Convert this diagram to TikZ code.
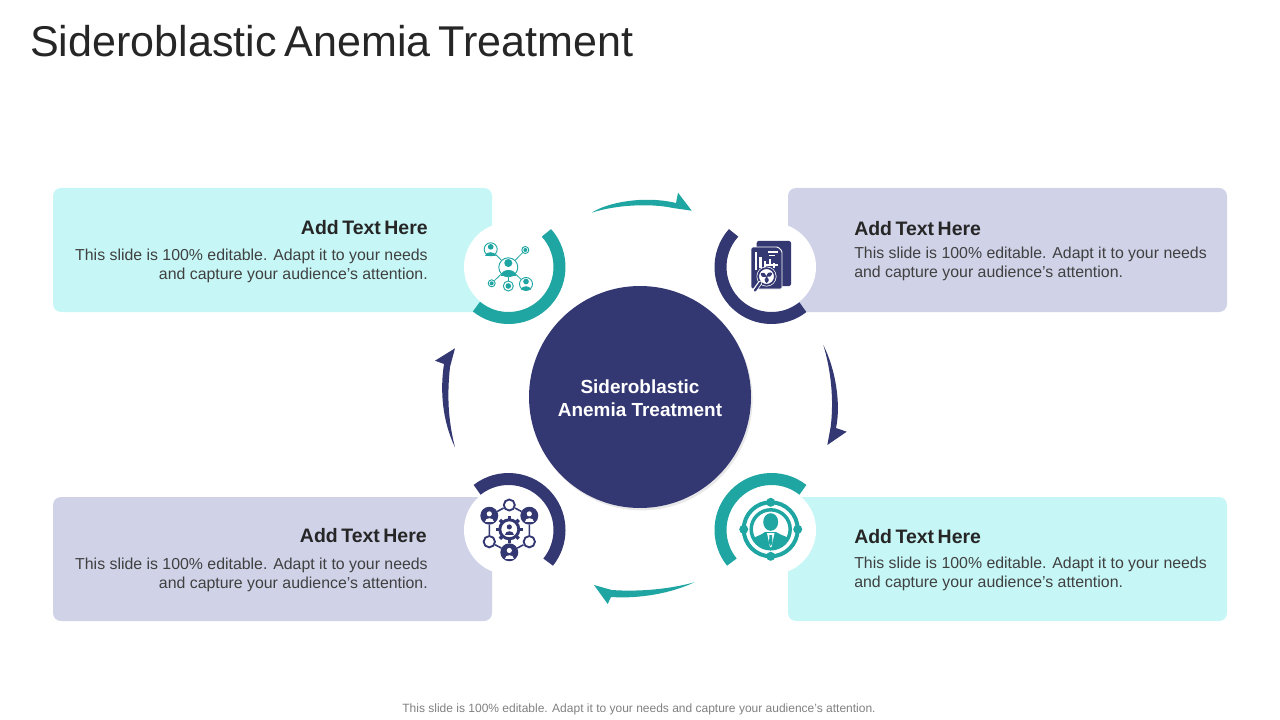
\documentclass[tikz,border=0pt]{standalone}
\usepackage{fontspec}
\setmainfont{Liberation Sans}
\newfontfamily\titlefont[WordSpace=0.75]{Liberation Sans}
\newfontfamily\headfont[WordSpace=0.65]{Liberation Sans}
\usetikzlibrary{calc,positioning,shadows}
\definecolor{mainTeal}{HTML}{1FA6A2}
\definecolor{mainNavy}{HTML}{343872}
\definecolor{lightCyan}{HTML}{C6F7F6}
\definecolor{lightLav}{HTML}{D0D2E8}
\definecolor{inkDark}{HTML}{262626}
\definecolor{inkBody}{HTML}{404040}
\tikzset{
  box/.style={rectangle, rounded corners=6pt, minimum width=329.25pt, minimum height=93pt, inner sep=0pt},
  hub/.style={circle, fill=white, minimum size=66.75pt, inner sep=0pt},
  ring/.style={line width=9pt},
  headtxt/.style={inner sep=0pt, text=inkDark, font=\headfont\fontsize{14.6}{17}\selectfont\bfseries},
  bodytxt/.style={inner sep=0pt, text=inkBody, font=\fontsize{11.9}{14.25}\selectfont},
  sat/.style={circle, draw=mainTeal, fill=white, line width=.7pt, inner sep=0pt},
  hexnode/.style={circle, draw=mainNavy, line width=1.4pt, inner sep=0pt},
  person/.pic={
    \fill (0,-3) circle[radius=2.7];
    \fill (-5,5.5) .. controls (-5,.5) and (5,.5) .. (5,5.5) -- cycle;
  },
}
\begin{document}
\begin{tikzpicture}[x=0.75pt,y=-0.75pt]
    \useasboundingbox (0,0) rectangle (1280,720);
    % Title and footer
    \node [anchor=west, inner sep=0pt, text=inkDark, font=\titlefont\fontsize{32.3}{38}\selectfont] (title) at (30,41.5) {Sideroblastic Anemia Treatment};
    \node [inner sep=0pt, text=black!50, font=\fontsize{9}{11}\selectfont] (footer) at (639,709.5) {This slide is 100\% editable. Adapt it to your needs and capture your audience's attention.};
    % Place boxes
    \node [box, fill=lightCyan] (boxA) at (272.5,250) {};
    \node [box, fill=lightLav] (boxB) at (1007.5,250) {};
    \node [box, fill=lightLav] (boxC) at (272.5,559) {};
    \node [box, fill=lightCyan] (boxD) at (1007.5,559) {};
    % Place centre
    \node [circle, fill=mainNavy, minimum size=166.5pt, inner sep=0pt,
      drop shadow={opacity=.18, shadow xshift=1.2pt, shadow yshift=-1.8pt}] (centre) at (640,397) {};
    \node [inner sep=0pt, text=white, align=center, font=\fontsize{14.2}{17.25}\selectfont\bfseries] (centreText) at (640,398) {Sideroblastic\\Anemia Treatment};
    % Place hubs
    \node [hub] (hubA) at (508.5,267) {};
    \node [hub] (hubB) at (771.5,267) {};
    \node [hub] (hubC) at (508.5,530) {};
    \node [hub] (hubD) at (771.5,530) {};
    % Draw rings
    \draw [ring, mainTeal] ([shift={(42:38.25pt)}]hubA.center) arc[start angle=42, end angle=-129, radius=38.25pt];
    \draw [ring, mainNavy] ([shift={(138:38.25pt)}]hubB.center) arc[start angle=138, end angle=308, radius=38.25pt];
    \draw [ring, mainNavy] ([shift={(128:38.25pt)}]hubC.center) arc[start angle=128, end angle=-39, radius=38.25pt];
    \draw [ring, mainTeal] ([shift={(52:38.25pt)}]hubD.center) arc[start angle=52, end angle=219, radius=38.25pt];
    % Text in boxes
    \node [headtxt, anchor=east] (headA) at (428,228) {Add Text Here};
    \node [bodytxt, align=right, below=10.25pt of headA.south east, anchor=north east] (textA) {This slide is 100\% editable. Adapt it to your needs\\and capture your audience's attention.};
    \node [headtxt, anchor=west] (headB) at (854,229) {Add Text Here};
    \node [bodytxt, align=left, below=7.75pt of headB.south west, anchor=north west] (textB) {This slide is 100\% editable. Adapt it to your needs\\and capture your audience's attention.};
    \node [headtxt, anchor=east] (headC) at (427,536) {Add Text Here};
    \node [bodytxt, align=right, below=11pt of headC.south east, xshift=.75pt, anchor=north east] (textC) {This slide is 100\% editable. Adapt it to your needs\\and capture your audience's attention.};
    \node [headtxt, anchor=west] (headD) at (854,537) {Add Text Here};
    \node [bodytxt, align=left, below=9.5pt of headD.south west, anchor=north west] (textD) {This slide is 100\% editable. Adapt it to your needs\\and capture your audience's attention.};
    % Curved arrows
    \coordinate (tailTop) at (591.7,212.7);
    \coordinate (tipTop) at (691.7,210.7);
    \fill [mainTeal] (tailTop) .. controls (608,202) and (645,195.5) .. (676,203) -- (678,192.7) -- (tipTop) -- (673,208) .. controls (650,203) and (615,205) .. (tailTop) -- cycle;
    \coordinate (tailRight) at (823.3,345);
    \coordinate (tipRight) at (827.3,445);
    \fill [mainNavy] (tailRight) .. controls (836,370) and (841,405) .. (836,428) -- (846.7,431.7) -- (tipRight) -- (830.7,426.7) .. controls (834,400) and (831,370) .. (tailRight) -- cycle;
    \coordinate (tailBottom) at (694.3,582.3);
    \coordinate (tipBottom) at (594,585);
    \fill [mainTeal] (tailBottom) .. controls (672,593) and (640,599) .. (611,597) -- (607.7,604) -- (tipBottom) -- (611.7,590) .. controls (640,592) and (670,589) .. (tailBottom) -- cycle;
    \coordinate (tailLeft) at (455,447.3);
    \coordinate (tipLeft) at (455,348.3);
    \fill [mainNavy] (tailLeft) .. controls (442,420) and (440,390) .. (444,364) -- (435,360.7) -- (tipLeft) -- (450,367) .. controls (447,395) and (448,420) .. (tailLeft) -- cycle;
    % Icon A, network
    \node [sat, minimum size=14.25pt] (netHub) at (508.3,267.3) {};
    \node [sat, minimum size=9.75pt] (netA) at (490.7,249.3) {};
    \node [sat, minimum size=5.25pt] (netB) at (525.3,250) {};
    \node [sat, minimum size=5.25pt] (netC) at (491.7,283.3) {};
    \node [sat, minimum size=7.5pt] (netD) at (508.3,286) {};
    \node [sat, minimum size=9.75pt] (netE) at (526,284) {};
    \foreach \sat in {netA,netB,netC,netD,netE}
      \draw [mainTeal, line width=.6pt] (netHub) -- (\sat);
    \pic [color=mainTeal, scale=1.5] at (508.3,267.5) {person};
    \pic [color=mainTeal, scale=1.05] at (490.7,250) {person};
    \pic [color=mainTeal, scale=1.05] at (526,284.7) {person};
    \fill [mainTeal] (525.3,250) circle[radius=2];
    \fill [mainTeal] (491.7,283.3) circle[radius=2];
    \fill [mainTeal] (508.3,286) circle[radius=2.8];
    % Icon B, report with magnifier
    \fill [mainNavy, rounded corners=1.5pt] (756.7,241) rectangle (791,286);
    \fill [mainNavy, draw=white, line width=.7pt, rounded corners=1pt] (751,247) -- (778,247) -- (782,251) -- (782,289) -- (751,289) -- cycle;
    \draw [white, line width=1pt] (768,252) -- (778,252);
    \draw [white, line width=1pt] (769,255.5) -- (775,255.5);
    \draw [white, line width=2pt] (756,252) -- (756,270) (760.5,257) -- (760.5,268) (765,261) -- (765,268) (770,259) -- (770,266) (774,263) -- (774,268);
    \draw [white, line width=1.4pt] (766,265) -- (778,265);
    \fill [white] (766.5,276.5) circle[radius=10];
    \draw [mainNavy, line width=1.3pt] (766.5,276.5) circle[radius=8.4];
    \draw [white, line width=3.2pt, line cap=round] (760,283) -- (754.5,290.5);
    \draw [mainNavy, line width=1.7pt, line cap=round] (760.5,282.5) -- (755,290.5);
    \fill [mainNavy] (766.5,276.5) circle[radius=1];
    \foreach \ang in {30,150,270}
      \fill [mainNavy, rotate around={\ang:(766.5,276.5)}] (766.5,276.5) .. controls (769,273) and (772,274) .. (773,276.5) .. controls (771,279) and (768,279) .. (766.5,276.5) -- cycle;
    % Icon C, team around a gear
    \node [hexnode, minimum size=8.25pt] (hexTop) at (509.3,505) {};
    \node [hexnode, fill=mainNavy, minimum size=12pt] (hexLeftUp) at (489.3,515.7) {};
    \node [hexnode, fill=mainNavy, minimum size=12pt] (hexRightUp) at (529.3,515.7) {};
    \node [hexnode, minimum size=8.5pt] (hexRightLow) at (529.3,541.7) {};
    \node [hexnode, fill=mainNavy, minimum size=12pt] (hexBottom) at (509.3,552.3) {};
    \node [hexnode, minimum size=8.5pt] (hexLeftLow) at (489.3,541.7) {};
    \draw [mainNavy, line width=1.2pt] (hexTop) -- (hexRightUp) -- (hexRightLow) -- (hexBottom) -- (hexLeftLow) -- (hexLeftUp) -- (hexTop);
    \foreach \hex in {hexLeftUp,hexRightUp,hexBottom}
      \pic [color=white, scale=.95] at ($(\hex)+(0,1)$) {person};
    \coordinate (gearMid) at (509.3,529.3);
    \foreach \ang in {0,45,...,315}
      \draw [mainNavy, line width=2.6pt] ([shift={(\ang:6pt)}]gearMid) -- ([shift={(\ang:10pt)}]gearMid);
    \draw [mainNavy, fill=white, line width=2.2pt] (gearMid) circle[radius=9.5];
    \pic [color=mainNavy, scale=.95] at ($(gearMid)+(0,.5)$) {person};
    % Icon D, target with person
    \coordinate (aimMid) at (770.7,529.3);
    \draw [mainTeal, line width=3pt] (aimMid) circle[radius=27];
    \draw [mainTeal, line width=2.6pt] (aimMid) circle[radius=19.5];
    \foreach \ang in {0,90,180,270}
      \fill [mainTeal] ([shift={(\ang:20.25pt)}]aimMid) circle[radius=4.5];
    \begin{scope}
      \clip (aimMid) circle[radius=19.5];
      \fill [mainTeal] (749,552) -- (749,541) .. controls (755,536) and (760,536) .. (765,532) -- (776,532) .. controls (782,536) and (787,536) .. (793,541) -- (793,552) -- cycle;
    \end{scope}
    \fill [mainTeal] (770.7,522) ellipse[x radius=7.5, y radius=8.8];
    \fill [white] (767,533) -- (774.5,533) -- (771.5,547) -- (770,547) -- cycle;
    \fill [mainTeal] (769.5,535) -- (772,535) -- (772.5,543) -- (770.7,546) -- (769,543) -- cycle;
\end{tikzpicture}
\end{document}
